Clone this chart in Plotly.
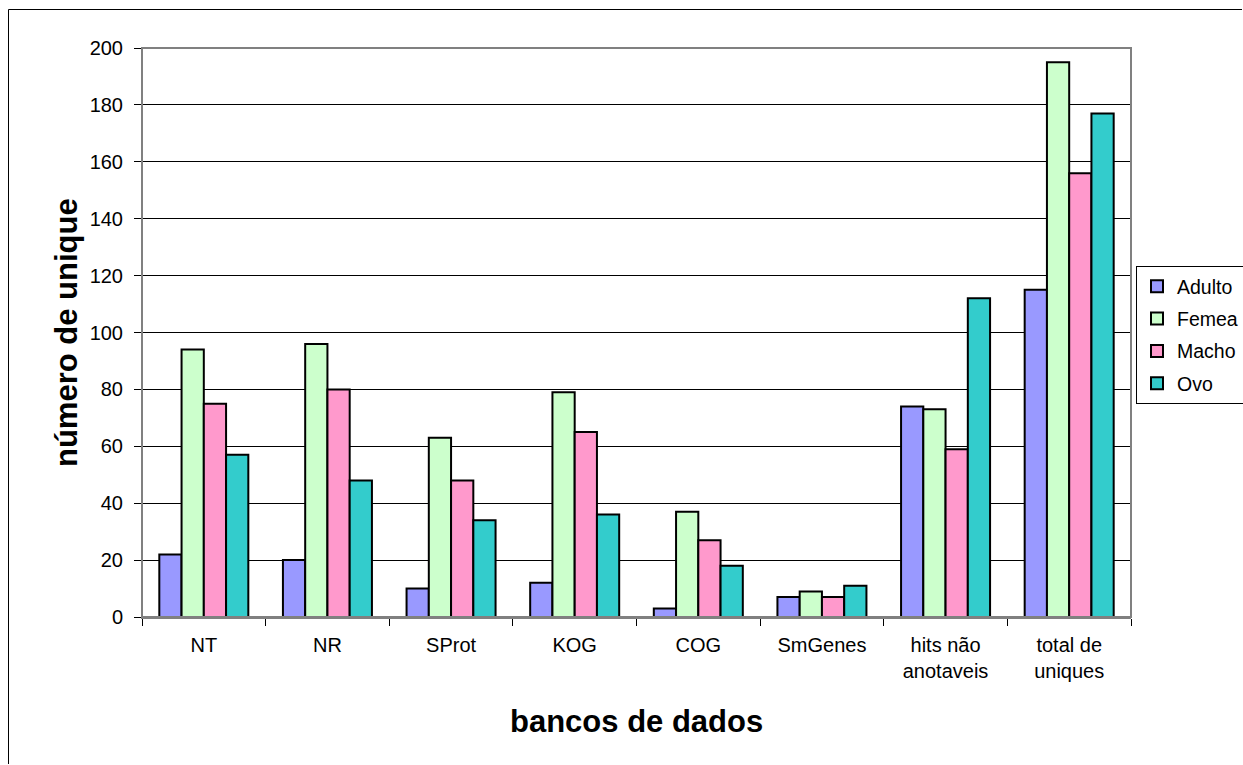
import plotly.graph_objects as go

categories = ["NT", "NR", "SProt", "KOG", "COG", "SmGenes",
              "hits não<br>anotaveis", "total de<br>uniques"]
adulto = [22, 20, 10, 12, 3, 7, 74, 115]
femea = [94, 96, 63, 79, 37, 9, 73, 195]
macho = [75, 80, 48, 65, 27, 7, 59, 156]
ovo = [57, 48, 34, 36, 18, 11, 112, 177]

series_names = ["Adulto", "Femea", "Macho", "Ovo"]
series_values = [adulto, femea, macho, ovo]
series_colors = ["#9999FF", "#CCFFCC", "#FF99CC", "#33CCCC"]

FONT = "Liberation Sans, Arial, sans-serif"

fig = go.Figure()
for i, (name, vals, col) in enumerate(zip(series_names, series_values, series_colors)):
    fig.add_trace(go.Bar(
        x=categories, y=vals, name=name, legendgroup=name,
        marker=dict(color=col, line=dict(color="black", width=2)),
    ))

W, H = 1243, 765
L, R, T, B = 142, 1131, 48, 617
pw, ph = R - L, B - T

def px(x):
    return (x - L) / pw

def py(y):
    return (B - y) / ph

fig.update_layout(
    width=W, height=H,
    margin=dict(l=L, r=W - R, t=T, b=H - B, autoexpand=False),
    paper_bgcolor="white", plot_bgcolor="white",
    barmode="group", bargap=0.28, bargroupgap=0,
    font=dict(family=FONT, size=20, color="black"),
    showlegend=True,
    legend=dict(
        x=px(1136), y=py(266), xanchor="left", yanchor="top",
        bordercolor="black", borderwidth=1, bgcolor="white",
        font=dict(size=19.5, family=FONT), tracegroupgap=4,
        itemwidth=30,
    ),
    xaxis=dict(
        type="category", tickson="boundaries", ticks="outside", ticklen=7,
        tickcolor="black", showline=True, linecolor="#808080", linewidth=2,
        showgrid=False, tickfont=dict(size=20), ticklabelstandoff=9,
    ),
    yaxis=dict(
        range=[0, 200], dtick=20, ticks="outside", ticklen=7, tickcolor="black",
        showline=True, linecolor="black", linewidth=1,
        showgrid=True, gridcolor="black", gridwidth=1, zeroline=False,
        tickfont=dict(size=20), ticklabelstandoff=7,
    ),
    shapes=[
        dict(type="rect", xref="paper", yref="paper", x0=0, x1=1, y0=0, y1=1,
             line=dict(color="#808080", width=2), fillcolor="rgba(0,0,0,0)", layer="above"),
        dict(type="line", xref="paper", yref="paper", x0=px(8.5), x1=px(8.5),
             y0=py(764), y1=py(9.5), line=dict(color="black", width=1)),
        dict(type="line", xref="paper", yref="paper", x0=px(8.5), x1=px(1242),
             y0=py(9.5), y1=py(9.5), line=dict(color="black", width=1)),
    ],
    annotations=[
        dict(text="<b>bancos de dados</b>", xref="paper", yref="paper",
             x=px(636), y=py(721), xanchor="center", yanchor="middle",
             showarrow=False, font=dict(size=31, family=FONT)),
        dict(text="<b>número de unique</b>", xref="paper", yref="paper",
             x=px(66), y=py(333), xanchor="center", yanchor="middle",
             textangle=-90, showarrow=False, font=dict(size=31, family=FONT)),
    ],
)

fig.write_html("out.html")
